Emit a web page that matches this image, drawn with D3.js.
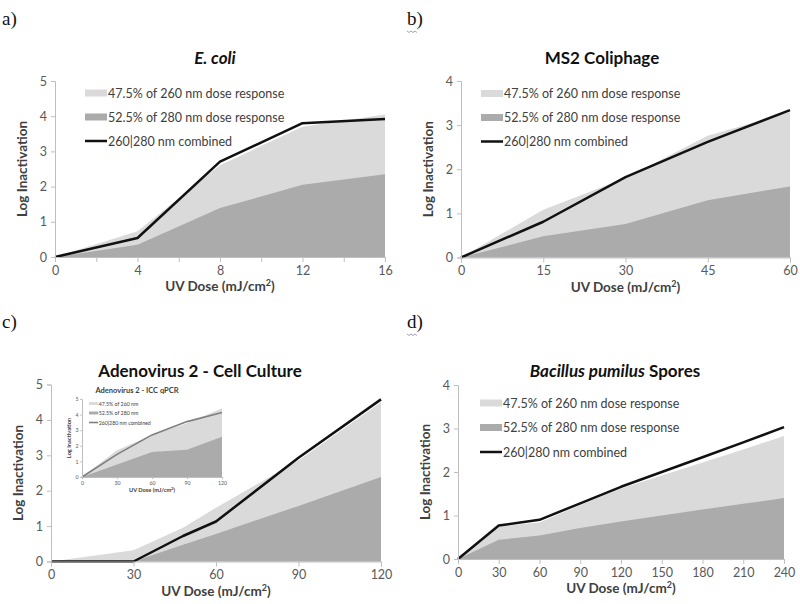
<!DOCTYPE html>
<html>
<head>
<meta charset="utf-8">
<script src="https://cdn.jsdelivr.net/npm/d3@7"></script>
<style>
  body { margin: 0; background: #fff; }
</style>
</head>
<body>
<svg id="chart" width="800" height="604"></svg>
<script>
// a) E. coli
const ecoliDose = [0, 4, 8, 12, 16];
const ecoli280 = [0, 0.35, 1.39, 2.05, 2.35];
const ecoli260 = [0, 0.38, 1.22, 1.65, 1.70];
const ecoliCombined = [0, 0.54, 2.71, 3.80, 3.92];
const ecoliXTicks = [0, 2, 4, 6, 8, 10, 12, 14, 16];
const ecoliXLabels = [0, 4, 8, 12, 16];

// b) MS2 coliphage
const ms2Dose = [0, 15, 30, 45, 60];
const ms2280 = [0, 0.48, 0.76, 1.30, 1.61];
const ms2260 = [0, 0.60, 1.04, 1.46, 1.69];
const ms2Combined = [0, 0.81, 1.82, 2.62, 3.34];
const ms2XTicks = [0, 15, 30, 45, 60];

// c) Adenovirus 2 - cell culture
const adenoDose = [0, 30, 48, 60, 90, 120];
const adeno280 = [0, 0, 0.47, 0.78, 1.57, 2.39];
const adeno260 = [0, 0.32, 0.48, 0.74, 1.28, 2.11];
const adenoCombined = [0, 0, 0.72, 1.13, 2.93, 4.58];
const adenoXTicks = [0, 30, 60, 90, 120];

// c) inset: Adenovirus 2 - ICC qPCR
const qpcrDose = [0, 30, 60, 90, 120];
const qpcr280 = [0, 0.80, 1.60, 1.75, 2.58];
const qpcr260 = [0, 0.92, 1.10, 1.70, 1.82];
const qpcrCombined = [0, 1.45, 2.70, 3.55, 4.13];

// d) Bacillus pumilus spores
const bacDose = [0, 30, 60, 90, 120, 150, 180, 210, 240];
const bac280 = [0, 0.44, 0.54, 0.71, 0.86, 1.00, 1.14, 1.27, 1.40];
const bac260 = [0, 0.31, 0.30, 0.53, 0.76, 0.92, 1.08, 1.25, 1.43];
const bacCombined = [0, 0.77, 0.90, 1.28, 1.66, 2.00, 2.34, 2.68, 3.03];
const bacXTicks = [0, 30, 60, 90, 120, 150, 180, 210, 240];

const legendLabels = ["47.5% of 260 nm dose response", "52.5% of 280 nm dose response", "260|280 nm combined"];
const insetLegendLabels = ["47.5% of 260 nm", "52.5% of 280 nm", "260|280 nm combined"];

const FONT = "Lato, 'Open Sans', sans-serif";
const LIGHT = "#dadada";
const DARK = "#ababab";
const AXIS = "#bfbfbf";
const LABEL = "#595959";

const svg = d3.select("#chart");

function drawPanel(p) {
    const s = p.scale || 1;
    const x = d3.scaleLinear().domain([0, p.xMax]).range([p.left, p.right]);
    const y = d3.scaleLinear().domain([0, p.yMax]).range([p.bottom, p.top]);

    const rows = p.dose.map((d, i) => ({
        d: d,
        lo: p.v280[i],
        hi: p.v280[i] + p.v260[i],
        c: p.combined[i]
    }));

    const g = svg.append("g");

    // 260 nm share sits on top of the 280 nm share
    g.append("path")
    .datum(rows)
    .attr("fill", LIGHT)
    .attr("d", d3.area().x(r => x(r.d)).y0(y(0)).y1(r => y(r.hi)));

    g.append("path")
    .datum(rows)
    .attr("fill", DARK)
    .attr("d", d3.area().x(r => x(r.d)).y0(y(0)).y1(r => y(r.lo)));

    g.append("path")
    .datum(rows)
    .attr("fill", "none")
    .attr("stroke", p.lineColor)
    .attr("stroke-width", p.lineWidth)
    .attr("stroke-linejoin", "round")
    .attr("d", d3.line().x(r => x(r.d)).y(r => y(r.c)));

    const labelSet = new Set(p.xLabels || p.xTicks);
    const xAxis = g.append("g")
    .attr("transform", `translate(0, ${p.bottom})`)
    .call(d3.axisBottom(x)
        .tickValues(p.xTicks)
        .tickSize(5 * s)
        .tickPadding(4 * s)
        .tickFormat(v => labelSet.has(v) ? v : ""));

    const yAxis = g.append("g")
    .attr("transform", `translate(${p.left}, 0)`)
    .call(d3.axisLeft(y)
        .tickValues(d3.range(0, p.yMax + 1))
        .tickSize(4 * s)
        .tickPadding(4 * s)
        .tickFormat(d3.format("d")));

    [xAxis, yAxis].forEach(a => {
        a.select(".domain").attr("stroke", AXIS);
        a.selectAll(".tick line").attr("stroke", AXIS);
        a.selectAll(".tick text")
        .attr("fill", LABEL)
        .style("font-family", FONT)
        .style("font-size", (12.5 * s) + "px");
    });

    // axis titles
    const xt = g.append("text")
    .attr("x", (p.left + p.right) / 2)
    .attr("y", p.bottom + 29 * s)
    .attr("text-anchor", "middle")
    .attr("dominant-baseline", "central")
    .attr("fill", "#404040")
    .style("font-family", FONT)
    .style("font-weight", "bold")
    .style("font-size", (13.5 * s) + "px");
    xt.append("tspan").text("UV Dose (mJ/cm");
    xt.append("tspan").text("2").attr("dy", -4 * s).style("font-size", (9 * s) + "px");
    xt.append("tspan").text(")").attr("dy", 4 * s);

    const ly = (p.top + p.bottom) / 2;
    const lx = p.left - 33 * s;
    g.append("text")
    .text("Log Inactivation")
    .attr("x", lx)
    .attr("y", ly)
    .attr("transform", `rotate(-90, ${lx}, ${ly})`)
    .attr("text-anchor", "middle")
    .attr("dominant-baseline", "central")
    .attr("fill", "#404040")
    .style("font-family", FONT)
    .style("font-weight", "bold")
    .style("font-size", (13.5 * s) + "px");

    // chart title
    const tt = g.append("text")
    .attr("x", p.titleX)
    .attr("y", p.titleY)
    .attr("text-anchor", "middle")
    .attr("dominant-baseline", "central")
    .attr("fill", p.titleColor || "#111")
    .style("font-family", FONT)
    .style("font-weight", "bold")
    .style("font-size", p.titleSize + "px");
    p.title.forEach(t => {
        tt.append("tspan").text(t.text).style("font-style", t.italic ? "italic" : "normal");
    });

    if (p.legend) {
        const lg = g.append("g").attr("transform", `translate(${p.legend.x}, ${p.legend.y})`);
        const items = lg.selectAll("g")
        .data(p.legend.labels)
        .enter()
        .append("g")
        .attr("transform", (_, i) => `translate(0, ${i * p.legend.step})`);

        items.each(function(d, i) {
            const it = d3.select(this);
            if (i < 2) {
                it.append("rect")
                .attr("x", 0)
                .attr("y", -3.5 * s)
                .attr("width", 22 * s)
                .attr("height", 7 * s)
                .attr("fill", i === 0 ? LIGHT : DARK);
            } else {
                it.append("line")
                .attr("x1", 0).attr("x2", 22 * s)
                .attr("y1", 0).attr("y2", 0)
                .attr("stroke", p.lineColor)
                .attr("stroke-width", p.lineWidth);
            }
            it.append("text")
            .text(d)
            .attr("x", 23 * s)
            .attr("y", 0)
            .attr("dominant-baseline", "central")
            .attr("fill", "#404040")
            .style("font-family", FONT)
            .style("font-size", (12.5 * s) + "px");
        });
    }
}

drawPanel({
    dose: ecoliDose, v280: ecoli280, v260: ecoli260, combined: ecoliCombined,
    xTicks: ecoliXTicks, xLabels: ecoliXLabels, xMax: 16, yMax: 5,
    left: 55, right: 385, top: 81, bottom: 257,
    lineColor: "#111", lineWidth: 2.5,
    title: [{ text: "E. coli", italic: true }], titleX: 215, titleY: 57, titleSize: 17,
    legend: { x: 85, y: 93, step: 24, labels: legendLabels }
});

drawPanel({
    dose: ms2Dose, v280: ms2280, v260: ms2260, combined: ms2Combined,
    xTicks: ms2XTicks, xMax: 60, yMax: 4,
    left: 461, right: 790, top: 81, bottom: 257.5,
    lineColor: "#111", lineWidth: 2.5,
    title: [{ text: "MS2 Coliphage", italic: false }], titleX: 602, titleY: 57, titleSize: 17,
    legend: { x: 481, y: 93.5, step: 24, labels: legendLabels }
});

drawPanel({
    dose: adenoDose, v280: adeno280, v260: adeno260, combined: adenoCombined,
    xTicks: adenoXTicks, xMax: 120, yMax: 5,
    left: 51, right: 381, top: 384.5, bottom: 561.5,
    lineColor: "#111", lineWidth: 2.5,
    title: [{ text: "Adenovirus 2 - Cell Culture", italic: false }], titleX: 200, titleY: 370, titleSize: 17
});

drawPanel({
    dose: qpcrDose, v280: qpcr280, v260: qpcr260, combined: qpcrCombined,
    xTicks: adenoXTicks, xMax: 120, yMax: 5,
    left: 82, right: 222, top: 399, bottom: 477,
    scale: 0.42,
    lineColor: "#7f7f7f", lineWidth: 1.6,
    title: [{ text: "Adenovirus 2 - ICC qPCR", italic: false }], titleX: 137, titleY: 390, titleSize: 7.5,
    titleColor: "#404040",
    legend: { x: 89, y: 403.5, step: 9.5, labels: insetLegendLabels }
});

drawPanel({
    dose: bacDose, v280: bac280, v260: bac260, combined: bacCombined,
    xTicks: bacXTicks, xMax: 240, yMax: 4,
    left: 458, right: 784, top: 385, bottom: 559,
    lineColor: "#111", lineWidth: 2.5,
    title: [{ text: "Bacillus pumilus", italic: true }, { text: " Spores", italic: false }],
    titleX: 615, titleY: 370, titleSize: 17,
    legend: { x: 480, y: 403, step: 24.5, labels: legendLabels }
});

// panel letters
const letters = [
    { t: "a)", x: 2, y: 25 },
    { t: "b)", x: 407, y: 25 },
    { t: "c)", x: 2, y: 328 },
    { t: "d)", x: 407, y: 328 }
];
svg.selectAll("text.letter")
.data(letters)
.enter()
.append("text")
.attr("class", "letter")
.text(d => d.t)
.attr("x", d => d.x)
.attr("y", d => d.y)
.attr("fill", "#111")
.style("font-family", "'Liberation Serif', 'DejaVu Serif', serif")
.style("font-size", "19px");

// spell-check squiggle under b) and d)
[{ x: 407, y: 31 }, { x: 407, y: 334 }].forEach(w => {
    const pts = d3.range(0, 6).map(i => [w.x + i * 2, w.y + (i % 2 ? 1.5 : 0)]);
    svg.append("path")
    .attr("d", d3.line()(pts))
    .attr("fill", "none")
    .attr("stroke", "#8c8cb4")
    .attr("stroke-width", 0.8);
});
</script>
</body>
</html>
